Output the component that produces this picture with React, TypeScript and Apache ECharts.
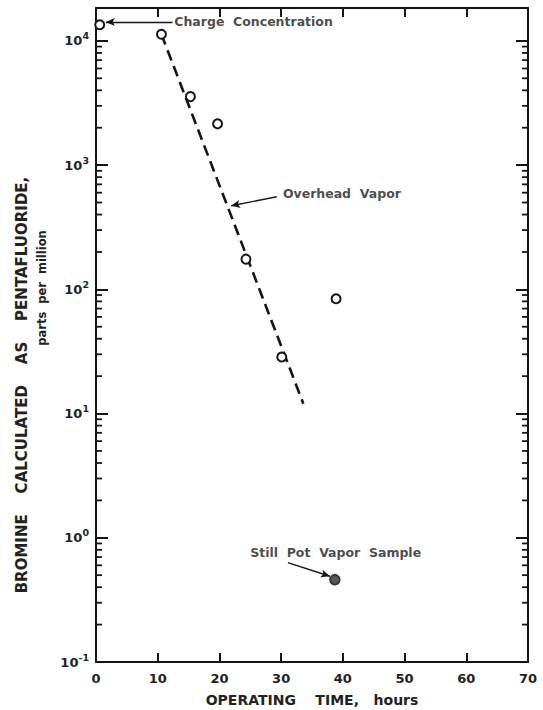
import React, { useEffect, useRef } from "react";
import * as echarts from "echarts";

// ---- data (x: hours, y: ppm) ----
const overheadHours = [0.6, 10.6, 15.3, 19.7, 24.3, 30.1, 38.9];
const overheadPpm = [13500, 11300, 3560, 2150, 175, 28.5, 84];
const stillPotHours = [38.7];
const stillPotPpm = [0.46];
const fitHours = [10.6, 33.6];
const fitPpm = [11300, 12];
const yDecades = [-1, 0, 1, 2, 3, 4];
const minorMultipliers = [2, 3, 4, 5, 6, 7, 8, 9];
const yMaxPpm = 18400;
const xMin = 0;
const xMax = 70;

// annotation texts and anchor points (data coords: hours, ppm)
const noteTexts = ["Charge  Concentration", "Overhead  Vapor", "Still  Pot  Vapor  Sample"];
const noteHours = [12.6, 30.2, 24.9];
const notePpm = [14200, 588, 0.76];
const arrowFromHours = [12.4, 29.3, 31.1];
const arrowFromPpm = [14200, 556, 0.63];
const arrowToHours = [1.6, 21.9, 37.9];
const arrowToPpm = [14200, 471, 0.49];
const arrowCurve = [0, 0, -0.12];

const FONT = "DejaVu Sans";
const INK = "#151515";

const lg = (v: number) => Math.log10(v);

export default function App() {
  const ref = useRef<HTMLDivElement>(null);
  useEffect(() => {
    if (!ref.current) return;
    const chart = echarts.init(ref.current, undefined, { renderer: "svg" });

    const minorVals: number[] = [];
    yDecades.forEach((d) => {
      minorMultipliers.forEach((m) => {
        const v = m * Math.pow(10, d);
        if (v < yMaxPpm) minorVals.push(lg(v));
      });
    });

    const supLabel = (v: number) => {
      if (Math.abs(v - Math.round(v)) > 1e-6) return "";
      return `{b|10}{s|${Math.round(v)}}`;
    };

    const axisCommon = {
      type: "value" as const,
      min: xMin,
      max: xMax,
      interval: 10,
      splitLine: { show: false },
      axisLine: { show: true, onZero: false, lineStyle: { color: INK, width: 2 } },
      axisTick: { show: true, inside: true, length: 9, lineStyle: { color: INK, width: 2 } },
    };
    const yCommon = {
      type: "value" as const,
      min: -1,
      max: lg(yMaxPpm),
      interval: 1,
      splitLine: { show: false },
      axisLine: { show: true, onZero: false, lineStyle: { color: INK, width: 2 } },
      axisTick: { show: true, inside: true, length: 12, lineStyle: { color: INK, width: 2 } },
    };

    const titleGraphics: any[] = [
      {
        id: "yname",
        type: "text",
        x: 22,
        y: 385,
        rotation: Math.PI / 2,
        style: {
          text: "BROMINE    CALCULATED    AS    PENTAFLUORIDE,",
          fontFamily: FONT,
          fontWeight: "bold",
          fontSize: 15,
          fill: "#222",
          align: "center",
          verticalAlign: "middle",
        },
      },
      {
        id: "yunit",
        type: "text",
        x: 42,
        y: 288,
        rotation: Math.PI / 2,
        style: {
          text: "parts  per  million",
          fontFamily: FONT,
          fontWeight: "bold",
          fontSize: 11.5,
          fill: "#222",
          align: "center",
          verticalAlign: "middle",
        },
      },
    ];

    chart.setOption({
      animation: false,
      backgroundColor: "#ffffff",
      grid: { left: 96, right: 15, top: 8, bottom: 48, containLabel: false, outerBoundsMode: "none" },
      xAxis: [
        {
          ...axisCommon,
          position: "bottom",
          axisLabel: {
            show: true,
            margin: 10,
            color: "#222",
            fontFamily: FONT,
            fontWeight: "bold",
            fontSize: 13,
          },
          name: "OPERATING    TIME,   hours",
          nameLocation: "middle",
          nameGap: 31,
          nameTextStyle: { color: "#222", fontFamily: FONT, fontWeight: "bold", fontSize: 14 },
        },
        { ...axisCommon, position: "top", axisLabel: { show: false } },
      ],
      yAxis: [
        {
          ...yCommon,
          position: "left",
          axisLabel: {
            show: true,
            margin: 7,
            formatter: supLabel,
            rich: {
              b: { fontFamily: FONT, fontWeight: "bold", fontSize: 13, color: "#222" },
              s: { fontFamily: FONT, fontWeight: "bold", fontSize: 9.5, color: "#222", padding: [0, 0, 10, 0] },
            },
          },
        },
        { ...yCommon, position: "right", axisLabel: { show: false } },
      ],
      graphic: titleGraphics,
      series: [
        {
          type: "line",
          name: "fit",
          silent: true,
          symbol: "none",
          data: fitHours.map((h, i) => [h, lg(fitPpm[i])]),
          lineStyle: { color: INK, width: 2.6, type: [11, 6] },
        },
        {
          type: "scatter",
          name: "Overhead Vapor",
          symbol: "circle",
          symbolSize: 9,
          clip: false,
          data: overheadHours.map((h, i) => [h, lg(overheadPpm[i])]),
          itemStyle: { color: "#ffffff", borderColor: INK, borderWidth: 2, opacity: 1 },
          z: 5,
        },
        {
          type: "scatter",
          name: "Still Pot Vapor Sample",
          symbol: "circle",
          symbolSize: 10,
          data: stillPotHours.map((h, i) => [h, lg(stillPotPpm[i])]),
          itemStyle: { color: "#2e2e2e", borderColor: INK, borderWidth: 1.5 },
          z: 5,
        },
        {
          type: "scatter",
          name: "notes",
          silent: true,
          symbolSize: 1,
          itemStyle: { color: "rgba(0,0,0,0)" },
          data: noteTexts.map((t, i) => ({ value: [noteHours[i], lg(notePpm[i])], name: t })),
          label: {
            show: true,
            position: "right",
            distance: 0,
            formatter: (p: any) => p.name,
            color: "#1a1a1a",
            fontFamily: FONT,
            fontWeight: "bold",
            fontSize: 12.5,
          },
          markLine: {
            silent: true,
            symbol: ["none", "arrow"],
            symbolSize: [6, 9],
            label: { show: false },
            lineStyle: { color: INK, width: 1.4, type: "solid" },
            data: noteTexts.map((_t, i) => [
              { coord: [arrowFromHours[i], lg(arrowFromPpm[i])], lineStyle: { curveness: arrowCurve[i] } },
              { coord: [arrowToHours[i], lg(arrowToPpm[i])] },
            ]),
          },
        },
      ],
    });

    // minor (logarithmic) ticks on left and right frame, placed through the chart's own scales
    const finder = { xAxisIndex: 0, yAxisIndex: 0 };
    const tickGraphics: any[] = [];
    minorVals.forEach((v, i) => {
      const l = chart.convertToPixel(finder as any, [xMin, v]) as number[];
      const r = chart.convertToPixel(finder as any, [xMax, v]) as number[];
      if (!l || !r) return;
      tickGraphics.push({
        id: "tl" + i,
        type: "line",
        silent: true,
        z: 10,
        shape: { x1: l[0], y1: l[1], x2: l[0] + 6, y2: l[1] },
        style: { stroke: INK, lineWidth: 1.8 },
      });
      tickGraphics.push({
        id: "tr" + i,
        type: "line",
        silent: true,
        z: 10,
        shape: { x1: r[0] - 6, y1: r[1], x2: r[0], y2: r[1] },
        style: { stroke: INK, lineWidth: 1.8 },
      });
    });
    chart.setOption({ graphic: [...titleGraphics, ...tickGraphics] });

    return () => chart.dispose();
  }, []);
  return (
    <div
      ref={ref}
      style={{ position: "fixed", left: 0, top: 0, width: 543, height: 710, background: "#fff" }}
    />
  );
}
